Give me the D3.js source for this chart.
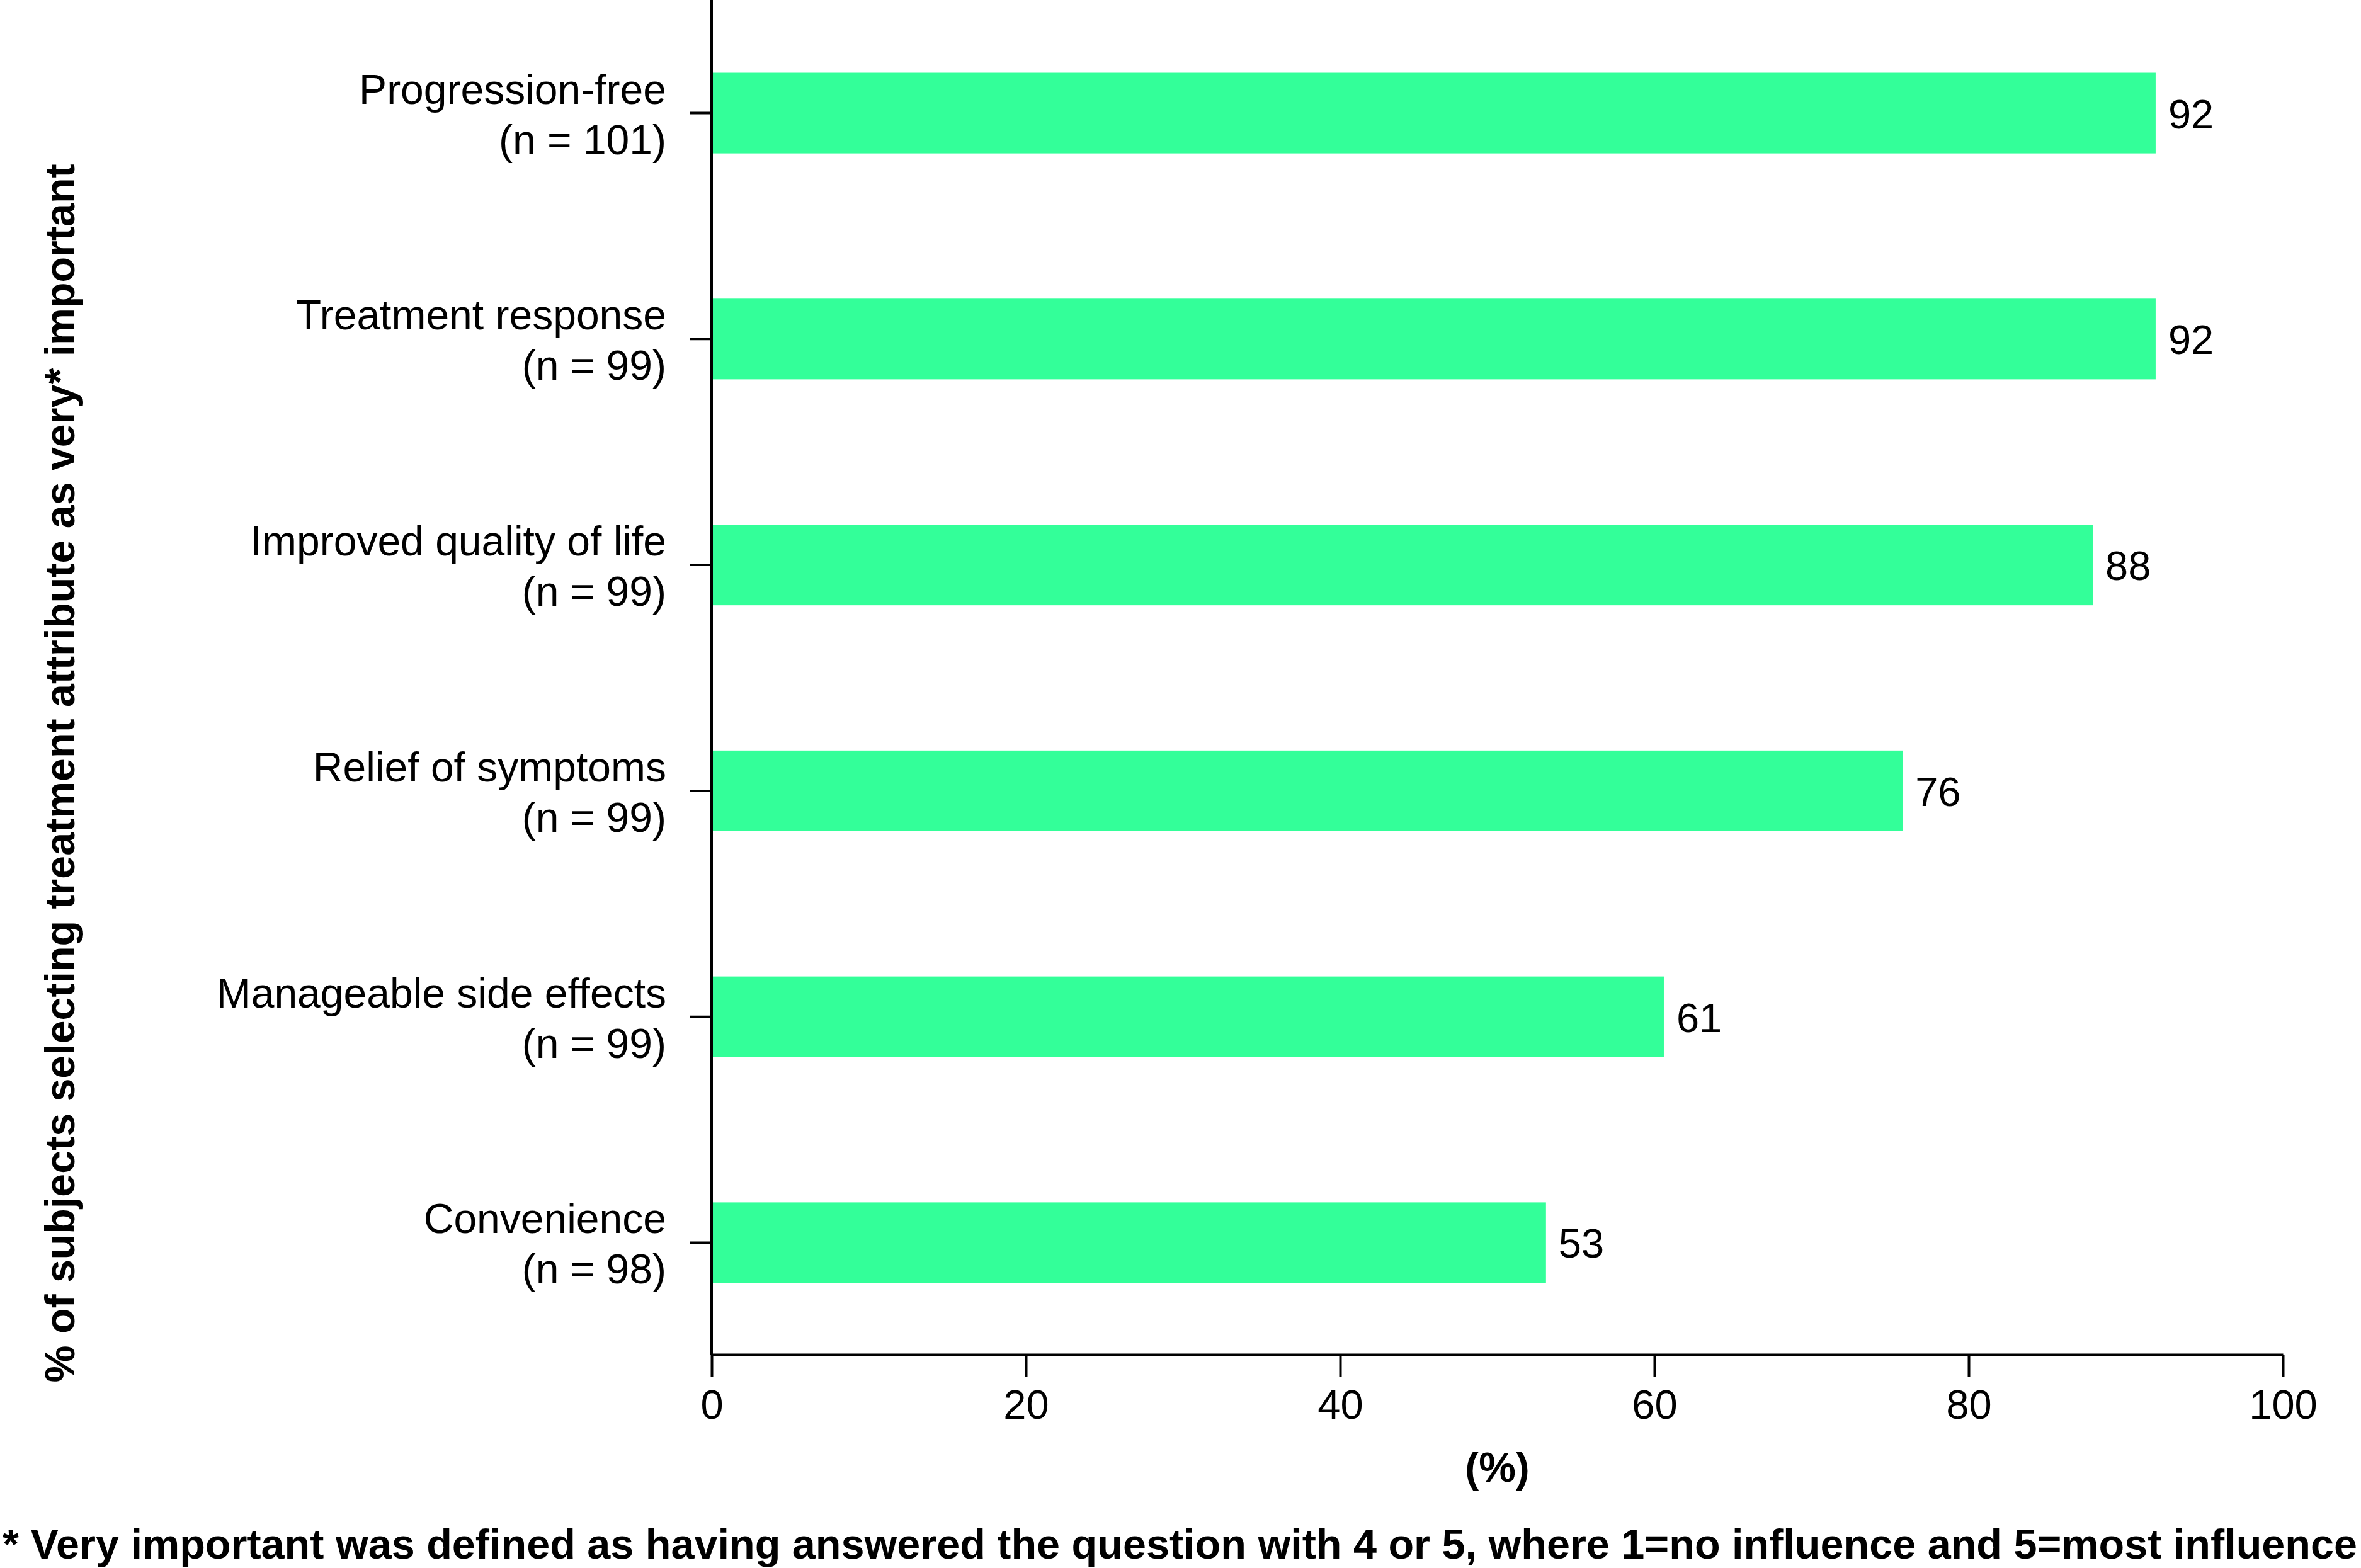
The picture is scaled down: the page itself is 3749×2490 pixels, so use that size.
<!DOCTYPE html>
<html>
<head>
<meta charset="utf-8">
<script src="https://cdn.jsdelivr.net/npm/d3@7"></script>
<style>
  html, body { margin: 0; padding: 0; background: #fff; }
  svg { display: block; }
  text { font-family: "Liberation Sans", Arial, Helvetica, sans-serif; fill: #000; }
</style>
</head>
<body>
<svg id="chart" width="3749" height="2490"></svg>
<script>
// ---- data ----
const categories = ["Progression-free", "Treatment response", "Improved quality of life", "Relief of symptoms", "Manageable side effects", "Convenience"];
const sampleSizes = ["(n = 101)", "(n = 99)", "(n = 99)", "(n = 99)", "(n = 99)", "(n = 98)"];
const values = [91.9, 91.9, 87.9, 75.8, 60.6, 53.1];
const xTicks = [0, 20, 40, 60, 80, 100];
const xTitle = "(%)";
const yTitle = "% of subjects selecting treatment attribute as very* important";
const footnote = "* Very important was defined as having answered the question with 4 or 5, where 1=no influence and 5=most influence";

(function () {
// ---- layout ----
const svg = d3.select("#chart");
const mLeft = 1130, mRight = 3625, mTop = 0, mBottom = 2151;
const fontSize = 66;

const x = d3.scaleLinear().domain([0, 100]).range([mLeft, mRight]);
const y = d3.scaleBand().domain(categories).range([mTop, 2153]).paddingInner(0.643).paddingOuter(0.322);

// bars
svg.append("g").selectAll("rect").data(categories).join("rect")
  .attr("x", x(0))
  .attr("y", d => y(d))
  .attr("width", (d, i) => x(values[i]) - x(0))
  .attr("height", y.bandwidth())
  .attr("fill", "#33ff99");

// value labels
svg.append("g").selectAll("text").data(categories).join("text")
  .attr("x", (d, i) => x(values[i]) + 20)
  .attr("y", d => y(d) + y.bandwidth() / 2 + 24)
  .attr("font-size", 65)
  .text((d, i) => Math.round(values[i]));

// y axis
const yAxis = svg.append("g")
  .attr("transform", `translate(${mLeft},0)`)
  .call(d3.axisLeft(y).tickSize(35).tickSizeOuter(0).tickFormat(""));
yAxis.selectAll("path, line").attr("stroke", "#000").attr("stroke-width", 4);
yAxis.select(".domain").attr("d", `M0,${mTop}V${mBottom}`);

// category labels (two lines)
const catG = svg.append("g");
categories.forEach((c, i) => {
  const cy = y(c) + y.bandwidth() / 2;
  const t = catG.append("text")
    .attr("text-anchor", "end")
    .attr("font-size", fontSize);
  t.append("tspan").attr("x", 1058).attr("y", cy - 15).text(c);
  t.append("tspan").attr("x", 1058).attr("y", cy + 65).text(sampleSizes[i]);
});

// x axis
const xAxis = svg.append("g")
  .attr("transform", `translate(0,${mBottom})`)
  .call(d3.axisBottom(x).tickValues(xTicks).tickSize(36).tickSizeOuter(0).tickPadding(20).tickFormat(d3.format("d")));
xAxis.selectAll("path, line").attr("stroke", "#000").attr("stroke-width", 4);
xAxis.selectAll("text").attr("font-size", 65).attr("font-family", "'Liberation Sans', Arial, sans-serif").attr("fill", "#000");

// x title
svg.append("text")
  .attr("x", (mLeft + mRight) / 2)
  .attr("y", 2353)
  .attr("text-anchor", "middle")
  .attr("font-size", fontSize)
  .attr("font-weight", "bold")
  .text(xTitle);

// y title
svg.append("text")
  .attr("transform", `translate(118,1228) rotate(-90)`)
  .attr("text-anchor", "middle")
  .attr("font-size", fontSize)
  .attr("font-weight", "bold")
  .attr("textLength", 1935)
  .attr("lengthAdjust", "spacingAndGlyphs")
  .text(yTitle);

// footnote
svg.append("text")
  .attr("x", 4)
  .attr("y", 2475)
  .attr("font-size", fontSize)
  .attr("font-weight", "bold")
  .attr("textLength", 3739)
  .attr("lengthAdjust", "spacingAndGlyphs")
  .text(footnote);
})();
</script>
</body>
</html>
